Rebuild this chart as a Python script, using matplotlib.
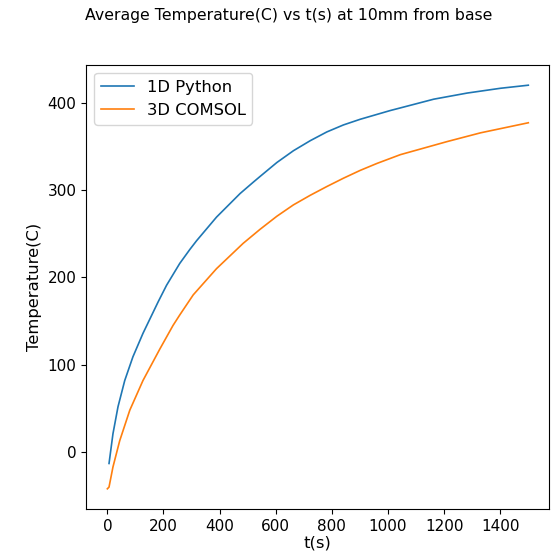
import matplotlib
matplotlib.use('Agg')
import matplotlib.pyplot as plt

# time (s) and average temperature (C)
t_python = [6, 20, 38, 62, 91, 127, 181, 211, 258, 294, 318, 389, 473, 520,
            544, 604, 663, 723, 782, 841, 901, 1008, 1044, 1163, 1282, 1401, 1500]
T_python = [-13, 21, 52, 82, 109, 136, 172, 191, 216, 232, 242, 269, 296, 309,
            315.5, 331.5, 345, 356.5, 366.5, 374.5, 381, 391, 394, 404, 411, 416.5, 420]

t_comsol = [0, 6, 20, 44, 80, 127, 187, 234, 258, 306, 389, 484, 544, 604,
            663, 723, 782, 841, 901, 961, 1044, 1211, 1330, 1500]
T_comsol = [-42, -40, -17, 13, 48, 82, 118, 145, 157, 180, 210, 239, 255, 270,
            283, 294, 304, 313.5, 322.5, 330.5, 340.5, 355.5, 365.5, 377]

fig = plt.figure(figsize=(5.6, 5.52), dpi=100)
ax = fig.add_axes([0.1541, 0.0779, 0.8269, 0.8043])

ax.plot(t_python, T_python, label='1D Python', lw=1.2)
ax.plot(t_comsol, T_comsol, label='3D COMSOL', lw=1.2)

ax.set_xlabel('t(s)', fontsize=11.8, labelpad=1)
ax.set_ylabel('Temperature(C)', fontsize=11.8)
ax.tick_params(labelsize=11)
ax.legend(loc='upper left', fontsize=11.8)
fig.suptitle('Average Temperature(C) vs t(s) at 10mm from base',
             x=289 / 560, y=0.985, fontsize=11.3)

fig.savefig('out.png', dpi=100)
